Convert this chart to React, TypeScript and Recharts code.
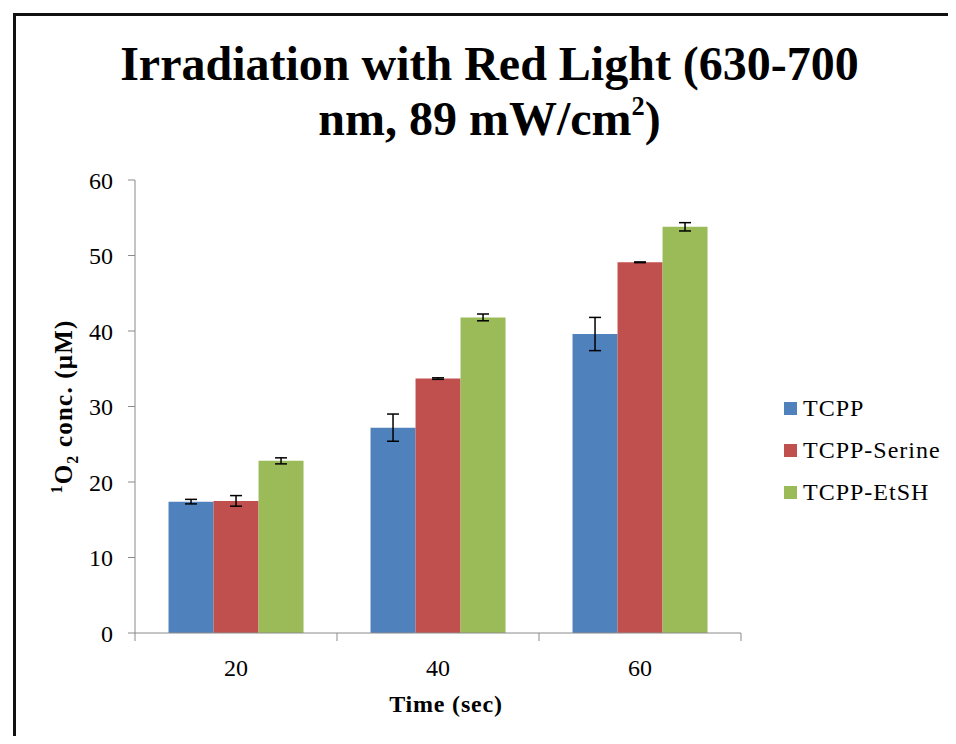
import { Bar, BarChart, ErrorBar, XAxis, YAxis } from "recharts"

const times = ["20", "40", "60"]
const seriesNames = ["TCPP", "TCPP-Serine", "TCPP-EtSH"]
const tcpp = [17.4, 27.2, 39.6]
const tcppErr = [0.3, 1.8, 2.2]
const serine = [17.5, 33.7, 49.1]
const serineErr = [0.7, 0.1, 0.05]
const etsh = [22.8, 41.8, 53.8]
const etshErr = [0.4, 0.45, 0.55]
const yTicks = [0, 10, 20, 30, 40, 50, 60]

const colors = ["#4F81BD", "#C0504D", "#9BBB59"]
const axisGray = "#8a8a8a"
const serif = "'Liberation Serif', 'Times New Roman', serif"

const data = times.map((t, i) => ({
  time: t,
  tcpp: tcpp[i],
  tcppErr: tcppErr[i],
  serine: serine[i],
  serineErr: serineErr[i],
  etsh: etsh[i],
  etshErr: etshErr[i],
}))

const W = 948
const H = 728
const margin = { top: 172, right: 215, bottom: 43, left: 67 }
const plotW = W - margin.left - 60 - margin.right
const halfBand = plotW / times.length / 2

function TimeTick(props: any) {
  const { x, y, payload, index } = props
  return (
    <g>
      <text
        x={x}
        y={y + 43}
        textAnchor="middle"
        fill="#000"
        fontSize={24}
        fontFamily={serif}
      >
        {payload.value}
      </text>
      <line x1={x + halfBand} x2={x + halfBand} y1={y} y2={y + 8} stroke={axisGray} />
      {index === 0 && (
        <line x1={x - halfBand} x2={x - halfBand} y1={y} y2={y + 8} stroke={axisGray} />
      )}
    </g>
  )
}

function YLabel(props: any) {
  const vb = props.viewBox
  const cx = vb.x - 11
  const cy = vb.y + vb.height / 2
  return (
    <text
      transform={`rotate(-90 ${cx} ${cy})`}
      x={cx}
      y={cy + 8}
      textAnchor="middle"
      fontWeight="bold"
      fontSize={25}
      letterSpacing={1.2}
      fontFamily={serif}
      fill="#000"
    >
      <tspan fontSize={16} dy={-10}>1</tspan>
      <tspan dy={10}>O</tspan>
      <tspan fontSize={16} dy={6}>2</tspan>
      <tspan dy={-6}> conc. (μM)</tspan>
    </text>
  )
}

function XLabel(props: any) {
  const vb = props.viewBox
  return (
    <text
      x={vb.x + vb.width / 2 + 8}
      y={vb.y + 79}
      textAnchor="middle"
      fontWeight="bold"
      fontSize={24}
      letterSpacing={0.8}
      fontFamily={serif}
      fill="#000"
    >
      Time (sec)
    </text>
  )
}

export default function App() {
  return (
    <div style={{ position: "relative", width: 940, height: H, fontFamily: serif }}>
      <div
        style={{
          position: "absolute",
          left: 5,
          top: 5,
          width: 950,
          height: 740,
          borderLeft: "3px solid #111",
          borderTop: "3px solid #111",
          boxSizing: "border-box",
        }}
      />
      <div style={{ position: "absolute", left: 0, top: 0 }}>
        <BarChart
          width={W}
          height={H}
          data={data}
          margin={margin}
          barCategoryGap="16.6%"
          barGap={0}
        >
          <XAxis
            dataKey="time"
            height={60}
            tickSize={0}
            tickMargin={0}
            tickLine={false}
            axisLine={{ stroke: axisGray }}
            tick={<TimeTick />}
            label={(p: any) => <XLabel {...p} />}
          />
          <YAxis
            width={60}
            domain={[0, 60]}
            ticks={yTicks}
            interval={0}
            tickSize={7}
            tickMargin={15}
            axisLine={{ stroke: axisGray }}
            tickLine={{ stroke: axisGray }}
            tick={{ fill: "#000", fontSize: 24, fontFamily: serif }}
            label={(p: any) => <YLabel {...p} />}
          />
          <Bar dataKey="tcpp" fill={colors[0]} isAnimationActive={false}>
            <ErrorBar dataKey="tcppErr" width={6} stroke="#000" strokeWidth={1.5} />
          </Bar>
          <Bar dataKey="serine" fill={colors[1]} isAnimationActive={false}>
            <ErrorBar dataKey="serineErr" width={6} stroke="#000" strokeWidth={1.5} />
          </Bar>
          <Bar dataKey="etsh" fill={colors[2]} isAnimationActive={false}>
            <ErrorBar dataKey="etshErr" width={6} stroke="#000" strokeWidth={1.5} />
          </Bar>
        </BarChart>
      </div>
      <div
        style={{
          position: "absolute",
          left: 0,
          top: 28,
          width: 963,
          textAlign: "center",
          fontSize: 48,
          lineHeight: "55px",
          fontWeight: "bold",
          whiteSpace: "nowrap",
          color: "#000",
        }}
      >
        Irradiation with Red Light (630-700
        <br />
        nm, 89 mW/cm
        <span style={{ fontSize: "0.55em", position: "relative", top: "-0.75em" }}>2</span>)
      </div>
      {seriesNames.map((name, i) => (
        <div
          key={name}
          style={{
            position: "absolute",
            left: 776,
            top: 400 + i * 42 - 14,
            height: 28,
            display: "flex",
            alignItems: "center",
            fontSize: 24,
            letterSpacing: 1,
            color: "#000",
            whiteSpace: "nowrap",
          }}
        >
          <span
            style={{
              display: "inline-block",
              width: 13,
              height: 13,
              background: colors[i],
              marginRight: 6,
            }}
          />
          {name}
        </div>
      ))}
    </div>
  )
}
